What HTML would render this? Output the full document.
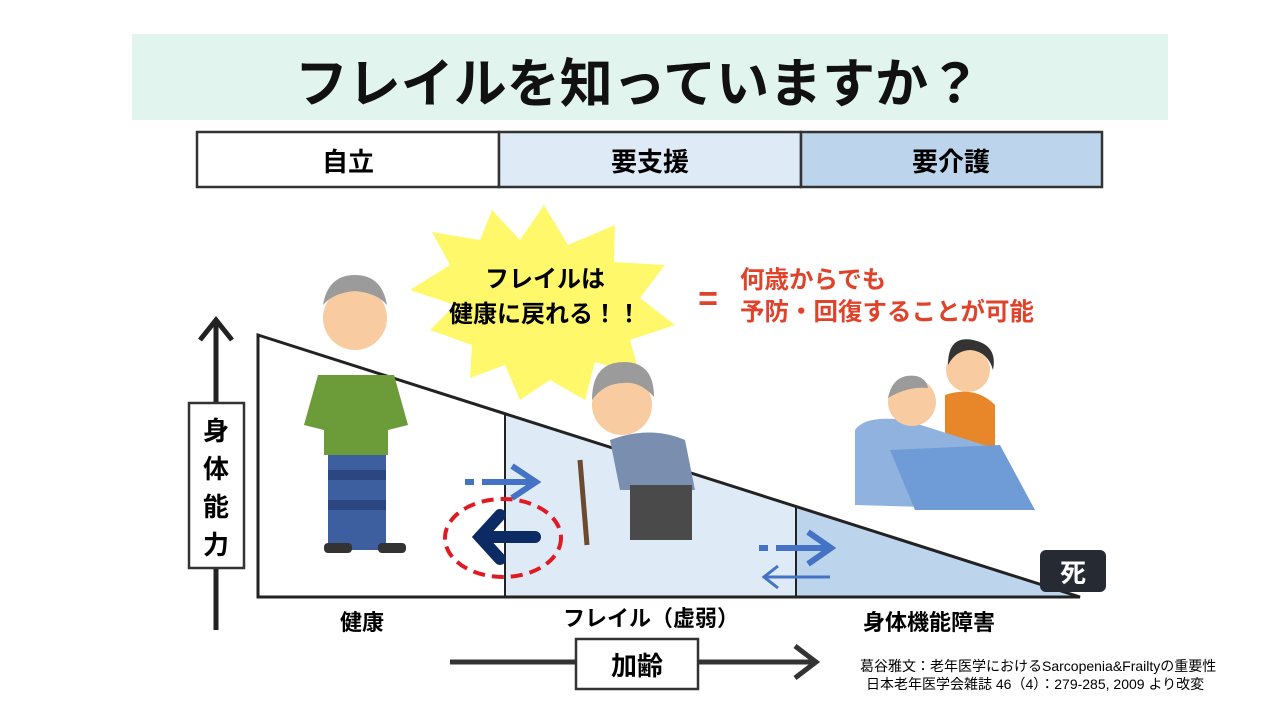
<!DOCTYPE html>
<html><head><meta charset="utf-8"><style>
body{margin:0;width:1280px;height:720px;overflow:hidden;background:#fff;font-family:"Liberation Sans","Noto Sans CJK JP",sans-serif}
svg text{font-family:"Liberation Sans","Noto Sans CJK JP",sans-serif;font-weight:bold}
</style></head><body>
<svg width="1280" height="720" viewBox="0 0 1280 720">
<rect x="132" y="34" width="1036" height="86" fill="#e2f4ee"/>
<text x="638" y="102" font-size="53" text-anchor="middle" fill="#111">フレイルを知っていますか？</text>
<rect x="197" y="132" width="302" height="55" fill="#fff" stroke="#333" stroke-width="2.5"/>
<rect x="499" y="132" width="302" height="55" fill="#deeaf6" stroke="#333" stroke-width="2.5"/>
<rect x="801" y="132" width="301" height="55" fill="#bdd5ec" stroke="#333" stroke-width="2.5"/>
<text x="348" y="171" font-size="26" text-anchor="middle">自立</text>
<text x="650" y="171" font-size="26" text-anchor="middle">要支援</text>
<text x="951" y="171" font-size="26" text-anchor="middle">要介護</text>
<polygon points="505,414 505,597 796,597 796,507" fill="#deeaf6"/>
<polygon points="796,507 796,597 1080,597" fill="#bdd5ec"/>
<polygon points="258,335 258,597 1080,597" fill="none" stroke="#222" stroke-width="3"/>
<line x1="505" y1="414" x2="505" y2="597" stroke="#222" stroke-width="2"/>
<line x1="796" y1="507" x2="796" y2="597" stroke="#222" stroke-width="2"/>
<line x1="216" y1="630" x2="216" y2="322" stroke="#222" stroke-width="5"/>
<polyline points="200,340 216,320 232,340" fill="none" stroke="#222" stroke-width="5"/>
<rect x="189" y="403" width="55" height="165" fill="#fff" stroke="#333" stroke-width="2.5"/>
<text x="216" y="440" font-size="26" text-anchor="middle">身</text>
<text x="216" y="478" font-size="26" text-anchor="middle">体</text>
<text x="216" y="516" font-size="26" text-anchor="middle">能</text>
<text x="216" y="554" font-size="26" text-anchor="middle">力</text>
<line x1="450" y1="662" x2="815" y2="662" stroke="#333" stroke-width="5"/>
<polyline points="795,646 816,662 795,678" fill="none" stroke="#333" stroke-width="5"/>
<rect x="576" y="639" width="122" height="50" fill="#fff" stroke="#333" stroke-width="2.5"/>
<text x="637" y="675" font-size="26" text-anchor="middle">加齢</text>
<text x="362" y="630" font-size="22" text-anchor="middle">健康</text>
<text x="651" y="626" font-size="22" text-anchor="middle">フレイル（虚弱）</text>
<text x="929" y="630" font-size="22" text-anchor="middle">身体機能障害</text>
<text x="860" y="671" font-size="14" style="font-weight:normal">葛谷雅文：老年医学におけるSarcopenia&amp;Frailtyの重要性</text>
<text x="866" y="689" font-size="14" style="font-weight:normal">日本老年医学会雑誌 46（4）：279-285, 2009 より改変</text>
<rect x="1040" y="550" width="66" height="42" rx="6" fill="#262b33"/>
<text x="1073" y="582" font-size="26" fill="#fff" text-anchor="middle">死</text>
<polygon fill="#fff86a" points="544,205 568,245 615,225 614,262 665,265 640,298 675,325 630,340 640,375 595,362 585,400 550,380 520,400 505,365 470,378 472,345 430,330 455,305 410,290 450,265 432,232 480,240 492,210 520,240" />
<text x="545" y="287" font-size="24" text-anchor="middle">フレイルは</text>
<text x="545" y="322" font-size="24" text-anchor="middle">健康に戻れる！！</text>
<text x="708" y="310" font-size="34" fill="#e0432b" text-anchor="middle">=</text>
<text x="740" y="288" font-size="24.5" fill="#e0432b">何歳からでも</text>
<text x="740" y="320" font-size="24.5" fill="#e0432b">予防・回復することが可能</text>
<g stroke="#4472c4" stroke-width="6" fill="none">
<line x1="465" y1="482" x2="474" y2="482"/><line x1="482" y1="482" x2="535" y2="482"/>
<polyline points="512,466 536,482 512,498"/>
<line x1="759" y1="548" x2="768" y2="548"/><line x1="776" y1="548" x2="830" y2="548"/>
<polyline points="808,532 831,548 808,564"/>
</g>
<g stroke="#4472c4" stroke-width="3" fill="none">
<line x1="765" y1="577" x2="830" y2="577"/><polyline points="778,566 764,577 778,588"/>
</g>
<ellipse cx="503" cy="538" rx="58" ry="39" fill="none" stroke="#e01a22" stroke-width="4" stroke-dasharray="12,7"/>
<g stroke="#0c2a63" stroke-width="12" fill="none" stroke-linecap="round">
<line x1="480" y1="537" x2="535" y2="537"/><polyline points="500,515 480,537 500,559"/>
</g>
<circle cx="355" cy="318" r="32" fill="#f8cba0"/>
<path d="M323,305 q5,-30 32,-30 q27,0 32,30 q-10,-12 -32,-14 q-22,2 -32,14z" fill="#9b9b9b"/>
<path d="M318,375 h76 l14,50 -20,5 v25 h-64 v-25 l-20,-5z" fill="#6c9b3a"/>
<rect x="328" y="455" width="58" height="95" fill="#3d5fa0"/>
<rect x="328" y="470" width="58" height="10" fill="#2b4680"/><rect x="328" y="500" width="58" height="10" fill="#2b4680"/>
<rect x="324" y="543" width="28" height="10" rx="4" fill="#333"/><rect x="378" y="543" width="28" height="10" rx="4" fill="#333"/>
<circle cx="622" cy="405" r="30" fill="#f8cba0"/>
<path d="M592,400 q0,-38 32,-38 q30,0 30,35 q-14,-16 -30,-14 q-20,0 -32,17z" fill="#9b9b9b"/>
<path d="M610,440 q40,-15 75,0 l10,50 h-75z" fill="#7a8fb0"/>
<rect x="630" y="485" width="62" height="55" fill="#4a4a4a"/>
<line x1="580" y1="460" x2="587" y2="545" stroke="#6b4a2e" stroke-width="5"/>
<circle cx="968" cy="370" r="22" fill="#f8cba0"/>
<path d="M948,365 q0,-30 25,-25 q25,5 20,30 q-5,-18 -22,-20 q-15,0 -23,15z" fill="#333"/>
<path d="M945,395 q30,-10 50,10 v45 h-50z" fill="#e8862a"/>
<path d="M855,430 q10,-15 50,-10 l95,30 l35,60 l-180,-5z" fill="#8fb2de"/>
<path d="M890,450 l110,-5 l35,65 l-120,0z" fill="#6f9bd6"/>
<circle cx="912" cy="402" r="24" fill="#f8cba0"/>
<path d="M888,398 q5,-25 28,-22 q10,2 12,12 q-20,-2 -40,10z" fill="#9b9b9b"/>
</svg>
</body></html>
